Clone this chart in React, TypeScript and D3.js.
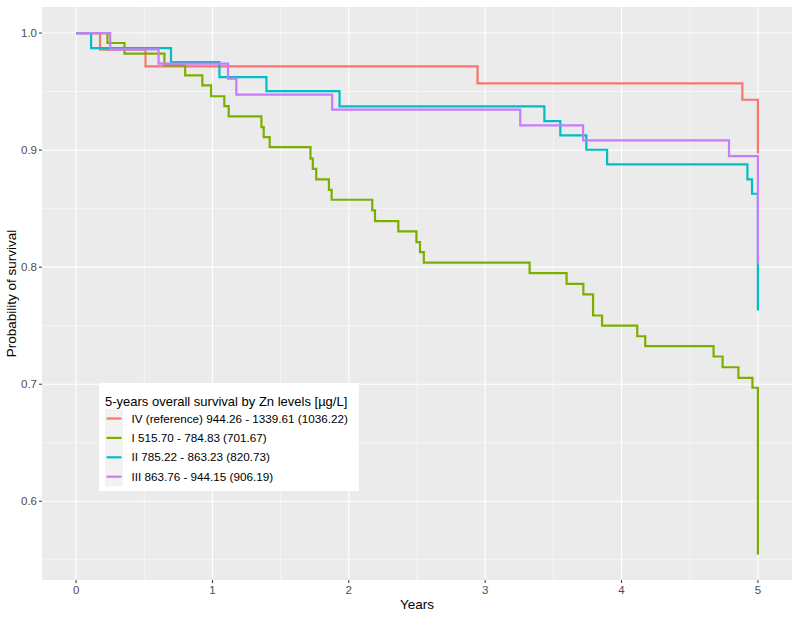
import React from 'react';
import * as d3 from 'd3';

// Kaplan-Meier step curves: event times (years) and survival after each step
const timesIV = [0, 0.176, 0.509, 2.944, 4.886, 5.0];
const survIV = [1.0, 0.9858, 0.9715, 0.957, 0.943, 0.897];

const timesI = [0, 0.23, 0.355, 0.648, 0.8, 0.926, 0.99, 1.087, 1.119, 1.359, 1.376, 1.42, 1.719, 1.736, 1.761, 1.854, 1.874, 2.172, 2.192, 2.363, 2.496, 2.522, 2.55, 3.326, 3.597, 3.72, 3.791, 3.857, 4.115, 4.174, 4.675, 4.741, 4.857, 4.96, 5.0];
const survI = [1.0, 0.9915, 0.9824, 0.9724, 0.9638, 0.9553, 0.946, 0.9376, 0.9288, 0.9197, 0.9111, 0.9026, 0.8927, 0.884, 0.875, 0.866, 0.8576, 0.8485, 0.8393, 0.8305, 0.8214, 0.8128, 0.8038, 0.7949, 0.7858, 0.7767, 0.7587, 0.75, 0.741, 0.7325, 0.7237, 0.7145, 0.7055, 0.697, 0.5545];

const timesII = [0, 0.11, 0.696, 1.051, 1.396, 1.932, 3.434, 3.551, 3.742, 3.894, 4.923, 4.957, 5.0];
const survII = [1.0, 0.9872, 0.9752, 0.9624, 0.9504, 0.9374, 0.9248, 0.9126, 0.9003, 0.8878, 0.875, 0.8627, 0.763];

const timesIII = [0, 0.25, 0.605, 1.114, 1.175, 1.878, 3.257, 3.718, 4.788, 5.0];
const survIII = [1.0, 0.986, 0.9738, 0.961, 0.9474, 0.9345, 0.9211, 0.9083, 0.8949, 0.803];

const seriesNames = [
  'IV (reference) 944.26 - 1339.61 (1036.22)',
  'I 515.70 - 784.83 (701.67)',
  'II 785.22 - 863.23 (820.73)',
  'III 863.76 - 944.15 (906.19)',
];
const seriesColors = ['#F8766D', '#7CAE00', '#00BFC4', '#C77CFF'];
const legendTitle = '5-years overall survival by Zn levels [\u00b5g/L]';

const xTicks = [0, 1, 2, 3, 4, 5];
const xMinor = [0.5, 1.5, 2.5, 3.5, 4.5];
const yTicks = [0.6, 0.7, 0.8, 0.9, 1.0];
const yMinor = [0.55, 0.65, 0.75, 0.85, 0.95];

const W = 796;
const H = 617;
const panel = { left: 42, right: 792, top: 7, bottom: 580 };
const font = '"Liberation Sans", Arial, Helvetica, sans-serif';

const App: React.FC = () => {
  const x = d3.scaleLinear().domain([-0.25, 5.25]).range([panel.left, panel.right]);
  const y = d3.scaleLinear().domain([0.53275, 1.02225]).range([panel.bottom, panel.top]);

  const series = [
    { t: timesIV, s: survIV },
    { t: timesI, s: survI },
    { t: timesII, s: survII },
    { t: timesIII, s: survIII },
  ];

  const line = d3
    .line<[number, number]>()
    .x(d => x(d[0]))
    .y(d => y(d[1]))
    .curve(d3.curveStepAfter);

  const legend = { x: 99, y: 383, w: 260, h: 108 };
  const rowY = (i: number) => 418.5 + i * 19.4;

  return (
    <svg
      width={W}
      height={H}
      style={{ position: 'absolute', left: 0, top: 0, background: '#fff' }}
      fontFamily={font}
    >
      <rect
        x={panel.left}
        y={panel.top}
        width={panel.right - panel.left}
        height={panel.bottom - panel.top}
        fill="#ebebeb"
      />
      {/* minor grid */}
      {xMinor.map(v => (
        <line key={'xm' + v} x1={x(v)} x2={x(v)} y1={panel.top} y2={panel.bottom} stroke="#fff" strokeWidth={0.55} />
      ))}
      {yMinor.map(v => (
        <line key={'ym' + v} x1={panel.left} x2={panel.right} y1={y(v)} y2={y(v)} stroke="#fff" strokeWidth={0.55} />
      ))}
      {/* major grid */}
      {xTicks.map(v => (
        <line key={'xg' + v} x1={x(v)} x2={x(v)} y1={panel.top} y2={panel.bottom} stroke="#fff" strokeWidth={1.1} />
      ))}
      {yTicks.map(v => (
        <line key={'yg' + v} x1={panel.left} x2={panel.right} y1={y(v)} y2={y(v)} stroke="#fff" strokeWidth={1.1} />
      ))}

      {/* curves */}
      {series.map((sr, i) => (
        <path
          key={'c' + i}
          d={line(sr.t.map((t, j) => [t, sr.s[j]] as [number, number])) || ''}
          fill="none"
          stroke={seriesColors[i]}
          strokeWidth={2.2}
        />
      ))}

      {/* axes */}
      {yTicks.map(v => (
        <g key={'yt' + v}>
          <line x1={panel.left - 3} x2={panel.left} y1={y(v)} y2={y(v)} stroke="#333" strokeWidth={1} />
          <text x={panel.left - 5} y={y(v) + 4} textAnchor="end" fontSize={11.5} fill="#4d4d4d">
            {v.toFixed(1)}
          </text>
        </g>
      ))}
      {xTicks.map(v => (
        <g key={'xt' + v}>
          <line x1={x(v)} x2={x(v)} y1={panel.bottom} y2={panel.bottom + 3} stroke="#333" strokeWidth={1} />
          <text x={x(v)} y={panel.bottom + 14} textAnchor="middle" fontSize={11.5} fill="#4d4d4d">
            {v}
          </text>
        </g>
      ))}
      <text x={(panel.left + panel.right) / 2} y={609} textAnchor="middle" fontSize={13.5} fill="#000">
        Years
      </text>
      <text
        transform={`translate(16, ${(panel.top + panel.bottom) / 2}) rotate(-90)`}
        textAnchor="middle"
        fontSize={13.5}
        fill="#000"
      >
        Probability of survival
      </text>

      {/* legend */}
      <rect x={legend.x} y={legend.y} width={legend.w} height={legend.h} fill="#fff" />
      <text x={105} y={406} fontSize={13} fill="#000">
        {legendTitle}
      </text>
      <rect x={105} y={rowY(0) - 9.7} width={18} height={19.4 * 4} fill="#f2f2f2" />
      {seriesNames.map((name, i) => (
        <g key={'lg' + i}>
          <line x1={106.5} x2={121.5} y1={rowY(i)} y2={rowY(i)} stroke={seriesColors[i]} strokeWidth={2.2} />
          <text x={131.5} y={rowY(i) + 4} fontSize={11.7} fill="#000">
            {name}
          </text>
        </g>
      ))}
    </svg>
  );
};

export default App;
